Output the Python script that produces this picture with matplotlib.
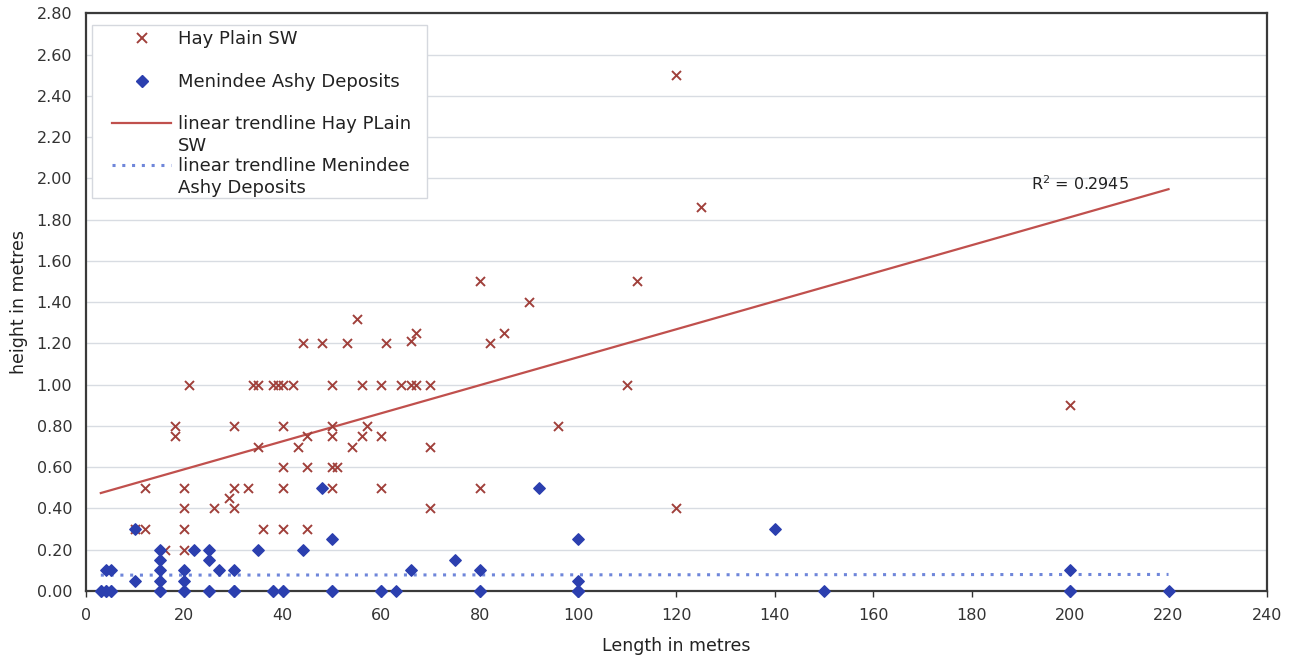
import numpy as np
import matplotlib
matplotlib.use("Agg")
import matplotlib.pyplot as plt
from matplotlib.lines import Line2D
from matplotlib.patches import Rectangle
from matplotlib.ticker import FormatStrFormatter, MultipleLocator

# Hay Plain SW : longueur (m) / hauteur (m)
hay_len = [120, 125, 80, 112, 90, 55, 85, 67, 66,
           44, 48, 53, 61, 82,
           21, 34, 35, 38, 39, 40, 42, 50, 56, 60, 64, 66, 67, 70, 110,
           18, 30, 40, 50, 57, 96,
           18, 45, 50, 56, 60,
           35, 43, 54, 70,
           40, 45, 50, 51,
           12, 20, 30, 33, 40, 50, 60, 80,
           29,
           20, 26, 30, 70, 120,
           10, 12, 20, 36, 40, 45,
           16, 20,
           200]
hay_h = [2.50, 1.86, 1.50, 1.50, 1.40, 1.32, 1.25, 1.25, 1.21,
         1.20, 1.20, 1.20, 1.20, 1.20,
         1.00, 1.00, 1.00, 1.00, 1.00, 1.00, 1.00, 1.00, 1.00, 1.00, 1.00, 1.00, 1.00, 1.00, 1.00,
         0.80, 0.80, 0.80, 0.80, 0.80, 0.80,
         0.75, 0.75, 0.75, 0.75, 0.75,
         0.70, 0.70, 0.70, 0.70,
         0.60, 0.60, 0.60, 0.60,
         0.50, 0.50, 0.50, 0.50, 0.50, 0.50, 0.50, 0.50,
         0.45,
         0.40, 0.40, 0.40, 0.40, 0.40,
         0.30, 0.30, 0.30, 0.30, 0.30, 0.30,
         0.20, 0.20,
         0.90]

# Menindee Ashy Deposits (plusieurs points superposes a 0)
men_len = [3, 4, 5, 4, 5, 10, 10, 15, 15, 15, 15, 15, 20, 20, 20, 22,
           25, 25, 25, 27, 30, 30, 35, 38, 40, 44, 48, 50, 50, 60, 63,
           66, 75, 80, 80, 92, 100, 100, 100, 140, 150, 200, 200, 220,
           3, 4, 5, 15, 20, 25, 30, 30, 38, 40, 50, 60, 80, 100, 100, 200]
men_h = [0.00, 0.00, 0.00, 0.10, 0.10, 0.05, 0.30, 0.00, 0.05, 0.10, 0.15, 0.20, 0.00, 0.05, 0.10, 0.20,
         0.00, 0.15, 0.20, 0.10, 0.00, 0.10, 0.20, 0.00, 0.00, 0.20, 0.50, 0.00, 0.25, 0.00, 0.00,
         0.10, 0.15, 0.00, 0.10, 0.50, 0.00, 0.05, 0.25, 0.30, 0.00, 0.00, 0.10, 0.00,
         0.00, 0.00, 0.00, 0.00, 0.00, 0.00, 0.00, 0.00, 0.00, 0.00, 0.00, 0.00, 0.00, 0.00, 0.00, 0.00]

r2_label = "R$^2$ = 0.2945"

c_hay = "#A0403B"
c_hay_line = "#C0504D"
c_men = "#2B3FAF"
c_men_line = "#6F86DA"

plt.rcParams["font.family"] = ["DejaVu Sans"]

W, H = 1292, 662
fig = plt.figure(figsize=(W / 100, H / 100), dpi=100)
ax = fig.add_axes([0.0666, 0.1073, 0.914, 0.8727])


def px(x, y):
    # position en pixels (origine en haut a gauche) -> fraction de figure
    return x / W, 1 - y / H


# droites de tendance (moindres carres) sur l'etendue commune des longueurs
xmin = min(min(hay_len), min(men_len))
xmax = max(max(hay_len), max(men_len))
xt = np.array([xmin, xmax])
a1, b1 = np.polyfit(hay_len, hay_h, 1)
a2, b2 = np.polyfit(men_len, men_h, 1)

ax.plot(xt, a1 * xt + b1, color=c_hay_line, lw=1.6, zorder=2)
ax.plot(xt, a2 * xt + b2, color=c_men_line, lw=2.2, ls=(0, (1, 2.2)), zorder=2)

ax.scatter(men_len, men_h, marker="D", s=34, color=c_men, zorder=4, clip_on=False)
ax.scatter(hay_len, hay_h, marker="x", s=42, color=c_hay, lw=1.4, zorder=3)

ax.text(212, a1 * 212 + b1 + 0.08, r2_label, ha="right", va="center", fontsize=11.5, color="#222222")

ax.set_xlim(0, 240)
ax.set_ylim(0, 2.8)
ax.xaxis.set_major_locator(MultipleLocator(20))
ax.yaxis.set_major_locator(MultipleLocator(0.2))
ax.yaxis.set_major_formatter(FormatStrFormatter("%.2f"))
ax.grid(True, axis="y", color="#D8DCE2", lw=1.0)
ax.set_axisbelow(True)
for s in ax.spines.values():
    s.set_color("#3A3A3A")
    s.set_linewidth(1.6)
ax.tick_params(axis="both", labelsize=11.5, colors="#333333", length=4, width=1)
ax.tick_params(axis="y", length=0, pad=10)
ax.tick_params(axis="x", pad=8)

ax.set_xlabel("Length in metres", fontsize=12.5, color="#222222", labelpad=10)
ax.set_ylabel("height in metres", fontsize=12.5, color="#222222", labelpad=6)

# legende dessinee a la main (cases de hauteur fixe, texte sur deux lignes qui deborde)
fig.add_artist(Rectangle(px(92, 198), 335 / W, 173 / H, transform=fig.transFigure,
                         facecolor="white", edgecolor="#D5D8DE", lw=1.0, zorder=5))
rows = [
    (38, Line2D([], [], ls="none", marker="x", color=c_hay, markersize=7, mew=1.4),
     "Hay Plain SW"),
    (81, Line2D([], [], ls="none", marker="D", color=c_men, markersize=6),
     "Menindee Ashy Deposits"),
    (123, Line2D([], [], color=c_hay_line, lw=1.6), "linear trendline Hay PLain\nSW"),
    (165, Line2D([], [], color=c_men_line, lw=2.2, ls=(0, (1, 2.2))),
     "linear trendline Menindee\nAshy Deposits"),
]
for yrow, h, lab in rows:
    x0, y0 = px(112, yrow)
    x1, _ = px(171, yrow)
    xc, _ = px(142, yrow)
    if h.get_linestyle() == "None":
        h.set_data([xc], [y0])
    else:
        h.set_data([x0, x1], [y0, y0])
    h.set_transform(fig.transFigure)
    h.set_zorder(6)
    fig.add_artist(h)
    tx, ty = px(178, yrow - 8)
    fig.text(tx, ty, lab, ha="left", va="top", fontsize=13, color="#222222",
             linespacing=1.3, zorder=6)

fig.savefig("out.png", dpi=100)
